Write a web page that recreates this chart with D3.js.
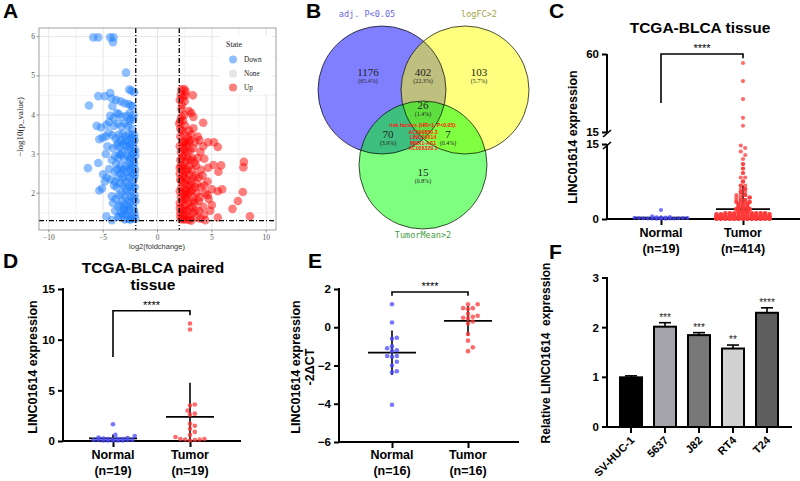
<!DOCTYPE html>
<html lang="en">
<head>
<meta charset="UTF-8">
<title>LINC01614 figure</title>
<style>
  body { margin: 0; background: #fff; }
  svg { display: block; font-family: 'Liberation Sans', Arial, sans-serif; }
</style>
</head>
<body>
<div id="chart"></div>
<script src="https://d3js.org/d3.v7.min.js"></script>
<script>
// ---- A: volcano, [log2FC, -log10 p] ----
const volcanoDown = [
  [-5.9,5.98],[-5.45,5.98],[-4.35,5.98],[-4.05,5.98],[-4.1,5.86],[-2.9,5.08],
  [-2.6,4.65],[-2.4,4.62],[-2.15,4.58],[-5.45,4.48],[-4.85,4.48],[-4.35,4.56],[-4.2,4.42],[-3.8,4.38],
  [-6.3,4.24],[-4.15,4.22],[-3.4,4.35],[-3.05,4.3],[-2.7,4.28],[-2.45,4.24],[-2.3,4.22],
  [-4.35,3.98],[-4.05,3.92],[-3.75,4.05],[-3.55,4.02],[-3.25,3.95],[-2.85,3.98],[-2.5,3.9],[-2.25,3.88],[-2.55,4.05],
  [-5.6,3.72],[-5.2,3.68],[-4.7,3.75],[-4.45,3.82],[-4.0,3.72],[-3.65,3.78],[-3.3,3.7],[-3.0,3.78],[-2.7,3.7],[-2.35,3.65],
  [-5.35,3.38],[-5.05,3.42],[-4.75,3.45],[-4.5,3.55],[-4.15,3.48],[-3.85,3.4],[-3.55,3.5],[-3.2,3.52],[-2.95,3.45],[-2.65,3.5],[-2.4,3.42],[-2.15,3.48],
  [-2.8,3.35],[-2.35,3.3],[-3.35,3.35],
  [-4.6,3.2],[-4.1,3.15],[-3.75,3.22],[-3.45,3.18],[-3.15,3.25],[-2.85,3.2],[-2.55,3.15],[-2.25,3.22],[-2.05,3.1],[-2.3,3.0],
  [-6.4,2.64],[-5.45,2.77],[-4.75,3.0],[-4.45,2.62],[-4.2,2.85],[-3.9,2.95],[-3.6,2.9],[-3.35,2.98],[-3.05,2.88],[-2.75,2.95],[-2.45,2.9],[-2.2,2.82],[-2.05,2.95],[-2.6,2.75],
  [-5.0,2.48],[-4.65,2.4],[-4.3,2.35],[-3.95,2.55],[-3.7,2.6],[-3.4,2.5],[-3.1,2.6],[-2.8,2.55],[-2.5,2.62],[-2.25,2.5],[-2.05,2.6],[-2.9,2.4],[-3.2,2.4],[-2.2,2.35],
  [-5.35,2.07],[-5.1,2.12],[-4.85,2.3],[-4.0,2.2],[-3.75,2.15],[-3.45,2.25],[-3.15,2.2],[-2.9,2.28],[-2.6,2.18],[-2.35,2.25],[-2.1,2.15],[-2.4,2.05],
  [-4.2,1.92],[-3.85,1.85],[-3.55,1.95],[-3.25,1.8],[-2.95,1.9],[-2.7,1.82],[-2.45,1.92],[-2.2,1.85],[-2.02,1.8],[-2.7,1.68],
  [-4.7,1.41],[-4.2,1.31],[-3.9,1.55],[-3.6,1.65],[-3.35,1.5],[-3.1,1.6],[-2.85,1.45],[-2.6,1.58],[-2.35,1.42],[-2.15,1.55],[-2.05,1.35],[-3.0,1.33],[-2.5,1.32],
  [-2.1,3.35],[-2.5,3.25],[-3.0,3.32],[-3.6,3.3],[-2.2,3.05],[-2.7,3.1],[-3.25,3.05],[-2.4,2.7],[-2.9,2.7],[-3.4,2.7],
  [-2.1,2.45],[-2.6,2.4],[-3.3,2.6],[-3.6,2.4],[-2.3,2.15],[-2.8,2.05],[-3.3,2.0],[-2.1,1.95],[-2.5,1.75],[-3.0,1.7],
  [-3.4,1.7],[-2.25,1.65],[-2.8,1.55],[-3.2,1.45],[-2.4,1.35],[-2.75,1.35],[-3.5,1.4],[-2.1,1.45],[-2.95,2.1],[-2.45,2.55],
  [-3.8,2.75],[-3.5,3.0],[-2.35,3.5],[-2.15,2.75],[-3.05,1.55],[-2.55,2.9],[-3.9,2.3],[-4.1,1.75],[-3.65,1.4],[-2.2,4.0],[-2.6,3.85]
];
const volcanoUp = [
  [2.2,4.65],[2.45,4.66],[2.6,4.6],[2.15,4.52],[2.35,4.45],[3.25,4.5],[2.05,4.38],[2.5,4.35],
  [2.2,4.15],[2.9,4.1],[3.1,4.05],[3.3,3.95],[2.45,4.0],[2.1,3.85],[2.35,3.85],
  [4.2,3.8],[2.0,3.78],[2.55,3.72],[2.9,3.6],[3.3,3.66],[2.25,3.6],
  [2.1,3.45],[2.45,3.5],[2.8,3.42],[3.1,3.5],[3.7,3.45],[3.85,3.35],[2.6,3.3],[3.45,3.3],[2.3,3.3],
  [4.65,3.3],[5.2,3.3],[4.2,3.2],[3.95,3.05],[2.05,3.2],[2.35,3.15],[2.7,3.22],[3.0,3.1],[3.3,3.15],[5.55,3.18],[2.75,3.05],
  [7.95,2.8],[7.9,2.66],[5.85,2.71],[5.6,2.55],[5.15,2.72],[4.65,2.65],[4.3,2.88],[3.7,2.9],[3.4,2.78],[3.05,2.85],[2.75,2.9],[2.4,2.95],[2.1,2.85],[4.0,2.6],[2.15,2.7],[2.9,2.7],
  [2.05,2.5],[2.3,2.6],[2.6,2.55],[2.9,2.48],[3.2,2.6],[3.5,2.45],[3.8,2.4],[4.6,2.3],[4.3,2.2],[2.2,2.3],[2.5,2.25],[2.8,2.2],[3.1,2.3],[3.45,2.15],[2.45,2.4],[3.25,2.4],
  [5.0,2.1],[5.55,2.05],[5.95,2.1],[4.4,2.0],[3.9,1.9],[2.05,2.05],[2.35,2.0],[2.7,1.95],[3.0,2.05],[3.3,1.9],[3.6,2.0],[2.2,2.15],[2.65,2.05],[2.5,1.9],
  [7.85,2.03],[7.4,1.8],[6.9,1.6],[8.5,1.41],[5.55,1.38],[4.4,1.31],[3.8,1.55],[4.2,1.65],[5.0,1.7],[4.7,1.85],[4.85,1.55],
  [2.05,1.75],[2.3,1.8],[2.55,1.7],[2.85,1.75],[3.15,1.65],[3.45,1.75],[2.1,1.5],[2.4,1.45],[2.7,1.55],[3.0,1.4],[3.3,1.5],[3.6,1.38],[2.2,1.33],[2.55,1.32],[2.9,1.32],[2.05,1.62],[3.95,1.35],
  [2.1,3.65],[2.4,3.3],[2.15,3.05],[2.5,3.1],[2.9,3.3],[2.25,2.9],[2.6,2.8],[3.2,2.9],[2.05,2.65],[2.4,2.7],
  [2.75,2.6],[2.1,2.35],[2.35,2.45],[2.7,2.35],[3.0,2.2],[2.15,1.9],[2.45,2.1],[2.85,2.0],[3.2,2.1],[2.3,1.6],
  [2.6,1.85],[2.95,1.6],[3.25,1.8],[2.1,1.4],[2.45,1.55],[2.75,1.4],[3.1,1.3],[2.35,1.35],[3.5,1.55],[3.8,1.8],
  [3.6,2.25],[4.0,2.15],[4.15,2.45],[3.55,2.7],[3.0,3.35],[2.25,4.25],[2.55,4.5],[2.2,3.95],[4.6,1.95],[4.3,1.45]
];
const volcanoStates = ["Down", "None", "Up"];

// ---- B: Venn ----
const vennLabels = ["adj. P<0.05", "logFC>2", "TumorMean>2"];
const vennCounts = [1176, 402, 103, 26, 70, 7, 15];
const vennPercents = ["65.4%", "22.3%", "5.7%", "1.4%", "3.9%", "0.4%", "0.8%"];
const riskTitle = "risk factors (HR>1, P<0.05):";
const riskGenes = ["AC099850.3", "LINC01614", "MNX1-AS1", "AC006329.1"];

// ---- C: TCGA-BLCA tissue ----
const groups = ["Normal", "Tumor"];
const tcgaN = [19, 414];
const tcgaNormal = [0.55, 0.3, 0.4, 0.2, 0.15, 0.1, 0.3, 0.05, 0.1, 1.8, 0.2, 0.15, 0.05, 0.1, 0.25, 0.1, 0.05, 0.35, 0.2];
// [value, number of samples]
const tcgaTumorBins = [
  [0.05,60],[0.15,45],[0.3,35],[0.45,30],[0.6,25],[0.8,22],[1.0,20],[1.2,17],[1.45,15],[1.7,13],
  [2.0,12],[2.3,10],[2.6,9],[3.0,8],[3.4,7],[3.8,6],[4.3,5],[4.8,5],[5.4,4],[6.0,4],[6.7,3],[7.5,3],
  [8.3,2],[9.2,2],[10.1,2],[11.0,2],[12.0,1],[12.8,1],[13.5,1],[14.2,1],[14.7,1],
  [18.6,1],[23.2,1],[34.0,1],[44.4,1],[54.8,1]
];

// ---- D: paired tissue ----
const pairedN = [19, 19];
const pairedNormal = [1.65, 0.6, 0.5, 0.35, 0.3, 0.25, 0.2, 0.2, 0.15, 0.1, 0.1, 0.1, 0.05, 0.05, 0.05, 0.05, 0.05, 0.1, 0.2];
const pairedTumor = [11.6, 11.0, 3.6, 3.5, 3.0, 2.7, 2.6, 1.7, 1.5, 1.2, 0.9, 0.6, 0.4, 0.2, 0.2, 0.15, 0.15, 0.05, 0.1];

// ---- E: qPCR -2ΔCT ----
const qpcrN = [16, 16];
const qpcrNormal = [1.2, 0.25, -0.55, -0.6, -1.0, -1.1, -1.2, -1.25, -1.5, -1.5, -1.55, -1.8, -2.0, -2.3, -2.35, -4.05];
const qpcrTumor = [1.2, 1.2, 1.0, 1.0, 0.95, 0.7, 0.6, 0.55, 0.5, 0.45, 0.3, 0.2, -0.35, -0.7, -1.05, -1.25];

// ---- F: cell lines ----
const cellLines = ["SV-HUC-1", "5637", "J82", "RT4", "T24"];
const cellMeans = [1.0, 2.02, 1.85, 1.58, 2.30];
const cellErrors = [0.03, 0.08, 0.05, 0.07, 0.10];
const cellStars = ["", "***", "***", "**", "****"];
const cellFills = ["#000000", "#a4a4aa", "#787878", "#d2d2d2", "#5e5e5e"];
const cellTicks = [0, 1, 2, 3];

const svg = d3.select("#chart").append("svg").attr("width", 800).attr("height", 481);
const SERIF = "'Liberation Serif', 'DejaVu Serif', serif";
const BLUE = "#4a4aff", RED = "#ff3a3a";

function panelLetter(t, x, y) {
  svg.append("text").attr("x", x).attr("y", y).attr("font-size", 21).attr("font-weight", "bold").text(t);
}

// ================= A =================
const xA = d3.scaleLinear([-10.9, 10.9], [39, 276]);
const yA = d3.scaleLinear([1.06, 6.22], [230, 28]);
const gA = svg.append("g");
gA.append("clipPath").attr("id", "clipA").append("rect")
  .attr("x", 39).attr("y", 28).attr("width", 237).attr("height", 202);
gA.append("g").selectAll("line").data([-7.5, -2.5, 2.5, 7.5]).join("line")
  .attr("x1", xA).attr("x2", xA).attr("y1", 28).attr("y2", 230).attr("stroke", "#f4f4f4");
gA.append("g").selectAll("line").data([1.5, 2.5, 3.5, 4.5, 5.5]).join("line")
  .attr("y1", yA).attr("y2", yA).attr("x1", 39).attr("x2", 276).attr("stroke", "#f4f4f4");
gA.append("g").selectAll("line").data(xA.ticks(5)).join("line")
  .attr("x1", xA).attr("x2", xA).attr("y1", 28).attr("y2", 230).attr("stroke", "#e6e6e6");
gA.append("g").selectAll("line").data([2, 3, 4, 5, 6]).join("line")
  .attr("y1", yA).attr("y2", yA).attr("x1", 39).attr("x2", 276).attr("stroke", "#e6e6e6");

const ptsA = gA.append("g").attr("clip-path", "url(#clipA)");
ptsA.selectAll(".dn").data(volcanoDown).join("circle").attr("class", "dn")
  .attr("cx", d => xA(d[0])).attr("cy", d => yA(d[1])).attr("r", 4.3)
  .attr("fill", "#1f80ff").attr("fill-opacity", 0.5);
ptsA.selectAll(".up").data(volcanoUp).join("circle").attr("class", "up")
  .attr("cx", d => xA(d[0])).attr("cy", d => yA(d[1])).attr("r", 4.3)
  .attr("fill", "#ff0000").attr("fill-opacity", 0.5);

// thresholds
[-2, 2].forEach(v => gA.append("line").attr("x1", xA(v)).attr("x2", xA(v)).attr("y1", 28).attr("y2", 230)
  .attr("stroke", "#000").attr("stroke-width", 1.3).attr("stroke-dasharray", "5,2,1,2"));
gA.append("line").attr("x1", 39).attr("x2", 276).attr("y1", yA(-Math.log10(0.05))).attr("y2", yA(-Math.log10(0.05)))
  .attr("stroke", "#000").attr("stroke-width", 1.3).attr("stroke-dasharray", "5,2,1,2");

gA.append("rect").attr("x", 39).attr("y", 28).attr("width", 237).attr("height", 202)
  .attr("fill", "none").attr("stroke", "#888").attr("stroke-width", 0.8);

const axA = gA.append("g").attr("font-family", SERIF).attr("fill", "#555").attr("font-size", 7.5);
xA.ticks(5).forEach(v => {
  axA.append("line").attr("x1", xA(v)).attr("x2", xA(v)).attr("y1", 230).attr("y2", 232.5).attr("stroke", "#555").attr("stroke-width", 0.6);
  axA.append("text").attr("x", xA(v)).attr("y", 240).attr("text-anchor", "middle").text(v < 0 ? "\u2212" + (-v) : v);
});
[2, 3, 4, 5, 6].forEach(v => {
  axA.append("line").attr("x1", 36.5).attr("x2", 39).attr("y1", yA(v)).attr("y2", yA(v)).attr("stroke", "#555").attr("stroke-width", 0.6);
  axA.append("text").attr("x", 35).attr("y", yA(v) + 2.6).attr("text-anchor", "end").text(v);
});
gA.append("text").attr("transform", "translate(23,127) rotate(-90)").attr("text-anchor", "middle")
  .attr("font-family", SERIF).attr("font-size", 9).attr("fill", "#222").text("\u2212log10(p_value)");
gA.append("text").attr("x", 157).attr("y", 249).attr("text-anchor", "middle")
  .attr("font-size", 7.5).attr("fill", "#333").text("log2(foldchange)");

// legend
const lg = gA.append("g").attr("font-family", SERIF).attr("fill", "#222");
lg.append("rect").attr("x", 220).attr("y", 36).attr("width", 52).attr("height", 58).attr("fill", "#fff");
lg.append("text").attr("x", 226).attr("y", 47).attr("font-size", 8).text("State");
const legCol = { Down: ["#1f80ff", 0.5], None: ["#d4d4d4", 0.6], Up: ["#ff0000", 0.5] };
volcanoStates.forEach((s, i) => {
  lg.append("circle").attr("cx", 233).attr("cy", 59.5 + i * 14).attr("r", 4)
    .attr("fill", legCol[s][0]).attr("fill-opacity", legCol[s][1]);
  lg.append("text").attr("x", 244).attr("y", 62 + i * 14).attr("font-size", 7.2).text(s);
});
panelLetter("A", 3, 18);

// ================= B =================
const gB = svg.append("g");
const circlesB = [
  { cx: 382, cy: 90, fill: "#0000ff" },
  { cx: 465, cy: 90, fill: "#ffff00" },
  { cx: 423, cy: 165, fill: "#00ff00" }
];
gB.selectAll("circle").data(circlesB).join("circle")
  .attr("cx", d => d.cx).attr("cy", d => d.cy).attr("r", 64)
  .attr("fill", d => d.fill).attr("fill-opacity", 0.5);
gB.selectAll("circle.o").data(circlesB).join("circle").attr("class", "o")
  .attr("cx", d => d.cx).attr("cy", d => d.cy).attr("r", 64)
  .attr("fill", "none").attr("stroke", "#000").attr("stroke-width", 0.7);
const regionPos = [[368, 76], [423, 76], [479, 76], [423, 109], [388, 138], [448, 138], [423, 176]];
regionPos.forEach((p, i) => {
  gB.append("text").attr("x", p[0]).attr("y", p[1]).attr("text-anchor", "middle")
    .attr("font-family", SERIF).attr("font-size", 11).attr("fill", "#222").text(vennCounts[i]);
  gB.append("text").attr("x", p[0]).attr("y", p[1] + 7).attr("text-anchor", "middle")
    .attr("font-family", SERIF).attr("font-size", 6).attr("fill", "#222").text("(" + vennPercents[i] + ")");
});
const labCol = ["#6a6ae6", "#a0a040", "#40a040"];
[[367, 17], [479, 17], [423, 238]].forEach((p, i) => {
  gB.append("text").attr("x", p[0]).attr("y", p[1]).attr("text-anchor", "middle")
    .attr("font-family", "'DejaVu Sans Mono', monospace").attr("font-size", 8.5).attr("fill", labCol[i]).text(vennLabels[i]);
});
gB.append("text").attr("x", 423).attr("y", 127).attr("text-anchor", "middle")
  .attr("font-size", 5.2).attr("font-weight", "bold").attr("fill", "#ff1010").text(riskTitle);
riskGenes.forEach((g, i) => {
  gB.append("text").attr("x", 423).attr("y", 134 + i * 5.3).attr("text-anchor", "middle")
    .attr("font-size", 5.2).attr("font-weight", "bold").attr("fill", "#ff1010").text(g);
});
panelLetter("B", 306, 18);

// ============ GraphPad helpers ============
// simple beeswarm; maxHalf may depend on the value
function swarm(values, yScale, cx, r, maxHalf) {
  const half = typeof maxHalf === "function" ? maxHalf : () => maxHalf;
  const placed = [];
  const pts = values.map(v => ({ v, y: yScale(v) })).sort((a, b) => b.y - a.y);
  const step = r * 1.05;
  for (const p of pts) {
    let best = cx, bestHits = Infinity;
    const lim = half(p.v);
    for (let k = 0; k * step <= lim; k++) {
      for (const s of (k ? [1, -1] : [1])) {
        const x = cx + s * k * step;
        let hits = 0;
        for (const q of placed) {
          const dx = q.x - x, dy = q.y - p.y;
          if (dx * dx + dy * dy < 4 * r * r) hits++;
        }
        if (hits < bestHits) { bestHits = hits; best = x; }
        if (hits === 0) break;
      }
      if (bestHits === 0) break;
    }
    p.x = best;
    placed.push(p);
  }
  return placed;
}

function styleAxis(a, fs) {
  a.attr("font-family", null).attr("font-size", null);
  a.select(".domain").remove();
  a.selectAll(".tick line").attr("stroke", "#000").attr("stroke-width", 2);
  a.selectAll(".tick text").attr("fill", "#000").attr("font-size", fs || 11.5).attr("font-weight", "bold");
}

function vline(g, x, y1, y2, w) {
  g.append("line").attr("x1", x).attr("x2", x).attr("y1", y1).attr("y2", y2).attr("stroke", "#000").attr("stroke-width", w || 2);
}
function hline(g, y, x1, x2, w) {
  g.append("line").attr("x1", x1).attr("x2", x2).attr("y1", y).attr("y2", y).attr("stroke", "#000").attr("stroke-width", w || 2);
}

function groupLabels(g, x, yBase, ns) {
  groups.forEach((c, i) => {
    const t = g.append("text").attr("text-anchor", "middle").attr("font-size", 12.5).attr("font-weight", "bold");
    t.append("tspan").attr("x", x(c)).attr("y", yBase).text(c);
    t.append("tspan").attr("x", x(c)).attr("y", yBase + 16).text("(n=" + ns[i] + ")");
  });
}

function meanSd(g, vals, cx, y, half, floor) {
  const m = d3.mean(vals), sd = d3.deviation(vals);
  vline(g, cx, y(Math.max(m - sd, floor)), y(m + sd), 1.6);
  hline(g, y(m), cx - half, cx + half, 1.8);
}

function bracket(g, x1, x2, yTop, yL, yR, stars) {
  g.append("path").attr("d", `M${x1},${yL}V${yTop}H${x2}V${yR}`)
    .attr("fill", "none").attr("stroke", "#000").attr("stroke-width", 1.6);
  g.append("text").attr("x", (x1 + x2) / 2).attr("y", yTop - 2).attr("text-anchor", "middle")
    .attr("font-size", 11).attr("fill", "#000").text(stars);
}

function dots(g, pts, color, r) {
  g.append("g").selectAll("circle").data(pts).join("circle")
    .attr("cx", d => d.x).attr("cy", d => d.y).attr("r", r).attr("fill", color).attr("fill-opacity", 0.75);
}

// ================= C =================
const gC = svg.append("g");
const xC = d3.scalePoint(groups, [661, 743]);
const yCLow = d3.scaleLinear([0, 15], [219, 144]);
const yCHigh = d3.scaleLinear([15, 60], [132, 54]);
const yC = v => v <= 15 ? yCLow(v) : yCHigh(v);
const tcgaTumor = tcgaTumorBins.flatMap(([v, n]) => Array(n).fill(v));

gC.append("g").attr("transform", "translate(607,0)").call(d3.axisLeft(yCLow).tickValues([0, 15]).tickSize(5)).call(a => styleAxis(a));
gC.append("g").attr("transform", "translate(607,0)").call(d3.axisLeft(yCHigh).tickValues([15, 60]).tickSize(5)).call(a => styleAxis(a));
vline(gC, 607, 54, 132);
vline(gC, 607, 144, 220);
gC.append("line").attr("x1", 603).attr("x2", 611).attr("y1", 137).attr("y2", 130).attr("stroke", "#000").attr("stroke-width", 1.6);
gC.append("line").attr("x1", 603).attr("x2", 611).attr("y1", 149).attr("y2", 142).attr("stroke", "#000").attr("stroke-width", 1.6);
hline(gC, 219, 606, 800);
gC.append("g").attr("transform", "translate(0,219)").call(d3.axisBottom(xC).tickSize(6).tickFormat("")).call(a => styleAxis(a));
groupLabels(gC, xC, 237, tcgaN);

meanSd(gC, tcgaNormal, xC("Normal"), yC, 27, 0);
meanSd(gC, tcgaTumor, xC("Tumor"), yC, 27, 0);
dots(gC, swarm(tcgaNormal, yC, xC("Normal"), 2.1, 27), BLUE, 2.1);
dots(gC, swarm(tcgaTumor, yC, xC("Tumor"), 2.1, v => v < 1.3 ? 27 : v < 5 ? 8 : 3), RED, 2.1);
bracket(gC, xC("Normal"), xC("Tumor"), yC(60), yC(31.7), yC(57.5), "****");

gC.append("text").attr("x", 700).attr("y", 33).attr("text-anchor", "middle")
  .attr("font-size", 15.5).attr("font-weight", "bold").text("TCGA-BLCA tissue");
gC.append("text").attr("transform", "translate(577,137) rotate(-90)").attr("text-anchor", "middle")
  .attr("font-size", 12.5).attr("font-weight", "bold").text("LINC01614 expression");
panelLetter("C", 549, 18);

// ================= D =================
const gD = svg.append("g");
const xD = d3.scalePoint(groups, [113, 190]);
const yD = d3.scaleLinear([0, 15], [441, 289]);
gD.append("g").attr("transform", "translate(63,0)").call(d3.axisLeft(yD).tickValues([0, 5, 10, 15]).tickSize(5)).call(a => styleAxis(a));
vline(gD, 63, 288, 442);
hline(gD, 441, 62, 241);
gD.append("g").attr("transform", "translate(0,441)").call(d3.axisBottom(xD).tickSize(6).tickFormat("")).call(a => styleAxis(a));
groupLabels(gD, xD, 459, pairedN);
meanSd(gD, pairedNormal, xD("Normal"), yD, 24, 0);
meanSd(gD, pairedTumor, xD("Tumor"), yD, 24, 0);
dots(gD, swarm(pairedNormal, yD, xD("Normal"), 2.3, 24), BLUE, 2.3);
dots(gD, swarm(pairedTumor, yD, xD("Tumor"), 2.3, 24), RED, 2.3);
bracket(gD, xD("Normal"), xD("Tumor"), yD(12.85), yD(8.3), yD(12.4), "****");
const tD = gD.append("text").attr("text-anchor", "middle").attr("font-size", 15.5).attr("font-weight", "bold");
tD.append("tspan").attr("x", 153).attr("y", 273).text("TCGA-BLCA paired");
tD.append("tspan").attr("x", 153).attr("y", 290).text("tissue");
gD.append("text").attr("transform", "translate(37,367) rotate(-90)").attr("text-anchor", "middle")
  .attr("font-size", 12.5).attr("font-weight", "bold").text("LINC01614 expression");
panelLetter("D", 3, 268);

// ================= E =================
const gE = svg.append("g");
const xE = d3.scalePoint(groups, [392, 468]);
const yE = d3.scaleLinear([-6, 2], [442, 289]);
gE.append("g").attr("transform", "translate(339,0)").call(d3.axisLeft(yE).tickValues([-6, -4, -2, 0, 2]).tickSize(5)).call(a => styleAxis(a));
vline(gE, 339, 288, 443);
hline(gE, 442, 338, 519);
gE.append("g").attr("transform", "translate(0,442)").call(d3.axisBottom(xE).tickSize(6).tickFormat("")).call(a => styleAxis(a));
groupLabels(gE, xE, 459, qpcrN);
meanSd(gE, qpcrNormal, xE("Normal"), yE, 24, -6);
meanSd(gE, qpcrTumor, xE("Tumor"), yE, 24, -6);
dots(gE, swarm(qpcrNormal, yE, xE("Normal"), 2.3, 24), BLUE, 2.3);
dots(gE, swarm(qpcrTumor, yE, xE("Tumor"), 2.3, 24), RED, 2.3);
bracket(gE, xE("Normal"), xE("Tumor"), yE(1.84), yE(1.65), yE(1.65), "****");
const lE = gE.append("text").attr("transform", "translate(300,367) rotate(-90)").attr("text-anchor", "middle")
  .attr("font-size", 12.5).attr("font-weight", "bold");
lE.append("tspan").attr("x", 0).attr("y", 0).text("LINC01614 expression");
lE.append("tspan").attr("x", 0).attr("y", 14).text("-2\u0394CT");
panelLetter("E", 308, 268);

// ================= F =================
const gF = svg.append("g");
const xF = d3.scalePoint(cellLines, [631, 767]);
const yF = d3.scaleLinear([0, 3], [427, 278]);
const barW = 22;
vline(gF, 607, 277, 428);
// y ticks and labels from the scale
cellTicks.forEach(v => {
  hline(gF, yF(v), 602, 607);
  gF.append("text").attr("x", 599).attr("y", yF(v) + 4).attr("text-anchor", "end")
    .attr("font-size", 11.5).attr("font-weight", "bold").attr("fill", "#000").text(String(v));
});
gF.selectAll("rect.bar").data(cellLines).join("rect").attr("class", "bar")
  .attr("x", d => xF(d) - barW / 2).attr("width", barW)
  .attr("y", (d, i) => yF(cellMeans[i])).attr("height", (d, i) => yF(0) - yF(cellMeans[i]))
  .attr("fill", (d, i) => cellFills[i]).attr("stroke", "#000").attr("stroke-width", 2);
cellLines.forEach((c, i) => {
  const top = yF(cellMeans[i] + cellErrors[i]);
  vline(gF, xF(c), yF(cellMeans[i]), top, 1.6);
  hline(gF, top, xF(c) - 6, xF(c) + 6, 1.6);
  gF.append("text").attr("x", xF(c)).attr("y", top - 2).attr("text-anchor", "middle")
    .attr("font-size", 10).attr("fill", "#222").text(cellStars[i]);
});
hline(gF, 427, 606, 792);
cellLines.forEach(c => {
  vline(gF, xF(c), 427, 433);
  gF.append("text").attr("transform", `translate(${xF(c) + 4},${441}) rotate(-45)`)
    .attr("text-anchor", "end").attr("font-size", 11).attr("font-weight", "bold").text(c);
});
gF.append("text").attr("transform", "translate(550,353) rotate(-90)").attr("text-anchor", "middle")
  .attr("font-size", 12).attr("font-weight", "bold").attr("xml:space", "preserve").text("Relative LINC01614  expression");
panelLetter("F", 549, 259);
</script>
</body>
</html>
